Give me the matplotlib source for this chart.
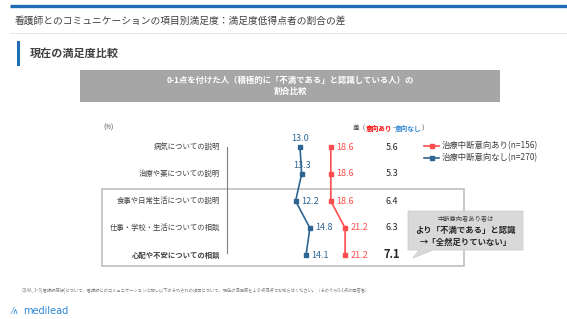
import matplotlib.pyplot as plt
from matplotlib.patches import Rectangle, Polygon

plt.rcParams['font.family'] = ['Noto Sans CJK JP', 'DejaVu Sans']

# data
categories = ['病気についての説明', '治療や薬についての説明', '食事や日常生活についての説明',
              '仕事・学校・生活についての相談', '心配や不安についての相談']
with_intent = [18.6, 18.6, 18.6, 21.2, 21.2]     # 治療中断意向あり
without_intent = [13.0, 13.3, 12.2, 14.8, 14.1]  # 治療中断意向なし
differences = [5.6, 5.3, 6.4, 6.3, 7.1]
series_labels = ['治療中断意向あり(n=156)', '治療中断意向なし(n=270)']

RED = '#ff4d4d'
BLUE = '#2f6592'
GRAY_TXT = '#404040'

W, H = 567, 319
fig = plt.figure(figsize=(W / 100, H / 100), dpi=100)
renderer = fig.canvas.get_renderer()

# overlay axes in pixel coordinates for the page decoration
bg = fig.add_axes([0, 0, 1, 1])
bg.set_xlim(0, W)
bg.set_ylim(H, 0)
bg.axis('off')


def text_run(x, y, pieces, **kw):
    # place coloured pieces of text one after another
    for s, color, weight in pieces:
        t = bg.text(x, y, s, color=color, fontweight=weight, ha='left', va='center', **kw)
        x += t.get_window_extent(renderer).width


# header
bg.plot([10, W], [6, 6], color='#1f6db3', lw=2.4, solid_capstyle='butt')
bg.text(15, 21, '看護師とのコミュニケーションの項目別満足度：満足度低得点者の割合の差',
        fontsize=7, color=GRAY_TXT, va='center', ha='left')
bg.plot([10, W], [33, 33], color='#e3e3e3', lw=0.6)
bg.add_patch(Rectangle((16.5, 41), 3.5, 25, color='#1f6db3', lw=0))
bg.text(30, 53, '現在の満足度比較', fontsize=8, color=GRAY_TXT, va='center',
        ha='left', fontweight='bold')

# gray title band
bg.add_patch(Rectangle((80, 70), 420, 32, color='#a6a6a6', lw=0))
bg.text(290, 80, '0-1点を付けた人（積極的に「不満である」と認識している人）の',
        fontsize=6, color='white', fontweight='bold', ha='center', va='center')
bg.text(290, 91.5, '割合比較', fontsize=6, color='white', fontweight='bold',
        ha='center', va='center')

bg.text(103, 128, '(%)', fontsize=4.5, color=GRAY_TXT, va='center', ha='left')

# highlight box around lower three items
bg.add_patch(Rectangle((102, 189), 362, 77, fill=False, ec='#bfbfbf', lw=1.2))

# data axes: x=0 sits on the vertical axis line
ax = fig.add_axes([228.5 / W, 1 - 268.5 / H, 165 / W, 135 / H])
ax.set_xlim(0, 30)
ax.set_ylim(4.5, -0.5)
ax.axis('off')

ypos = list(range(len(categories)))
ax.plot(with_intent, ypos, color=RED, lw=1.2, marker='s', ms=3.2, label=series_labels[0])
ax.plot(without_intent, ypos, color=BLUE, lw=1.2, marker='s', ms=3.2, label=series_labels[1])

for i, v in enumerate(with_intent):
    ax.text(v + 1.0, i, f'{v:.1f}', color=RED, fontsize=6.5, va='center', ha='left')
for i, v in enumerate(without_intent):
    if i < 2:
        ax.text(v, i - 0.33, f'{v:.1f}', color=BLUE, fontsize=6.5, va='center', ha='center')
    else:
        ax.text(v + 1.0, i, f'{v:.1f}', color=BLUE, fontsize=6.5, va='center', ha='left')

# category labels and axis line
for i, c in enumerate(categories):
    bg.text(220, 147 + 27 * i, c, fontsize=5.3, color=GRAY_TXT, ha='right', va='center',
            fontweight='bold' if i == len(categories) - 1 else 'normal')
bg.plot([227, 227], [147, 253], color='#7f7f7f', lw=0.8)

# difference column
text_run(353, 128, [('差（', GRAY_TXT, 'normal'), ('意向あり', '#ff0000', 'bold'),
                    ('-', GRAY_TXT, 'normal'), ('意向なし', '#2e86d6', 'bold'),
                    ('）', GRAY_TXT, 'normal')], fontsize=4.8)
for i, d in enumerate(differences):
    last = i == len(differences) - 1
    bg.text(392, 147 + 27 * i, f'{d:.1f}', fontsize=8 if last else 6.5, color='#262626',
            ha='center', va='center', fontweight='bold' if last else 'normal')

# legend
leg = ax.legend(loc='upper left', bbox_to_anchor=((424 - 228.5) / 165, (268.5 - 141.5) / 135),
                frameon=False, fontsize=6, handlelength=1.8, handletextpad=0.3,
                labelspacing=0.35, borderpad=0, borderaxespad=0)
for t in leg.get_texts():
    t.set_color(GRAY_TXT)

# callout
bg.add_patch(Polygon([(408, 211), (523, 211), (523, 250), (433, 250), (413, 258),
                      (419, 250), (408, 250)], closed=True, fc='#d9d9d9', ec='#c8c8c8', lw=0.5))
bg.text(465.5, 218.5, '中断意向者あり者は', fontsize=4.5, color=GRAY_TXT, ha='center', va='center')
bg.text(465.5, 230, 'より「不満である」と認識', fontsize=6, color='#262626', ha='center',
        va='center', fontweight='bold')
bg.text(465.5, 242, '→「全然足りていない」', fontsize=6, color='#262626', ha='center',
        va='center', fontweight='bold')

# footnote and logo
bg.text(22, 290, 'Q14A_1~5[看護師感想]について、看護師とのコミュニケーションに関し以下のそれぞれの項目について、'
        '現在の満足度を１０点満点でお知らせください。（そのうち0-1点の回答者）',
        fontsize=3.1, color='#7f7f7f', ha='left', va='center')
bg.text(12, 311, '⁄\u2227', fontsize=6, color='#2e86d6', ha='left', va='center', family='DejaVu Sans')
bg.text(23, 311, 'medilead', fontsize=7, color='#2e86d6', ha='left', va='center',
        family='DejaVu Sans')

fig.savefig('out.png', dpi=100, facecolor='white')
